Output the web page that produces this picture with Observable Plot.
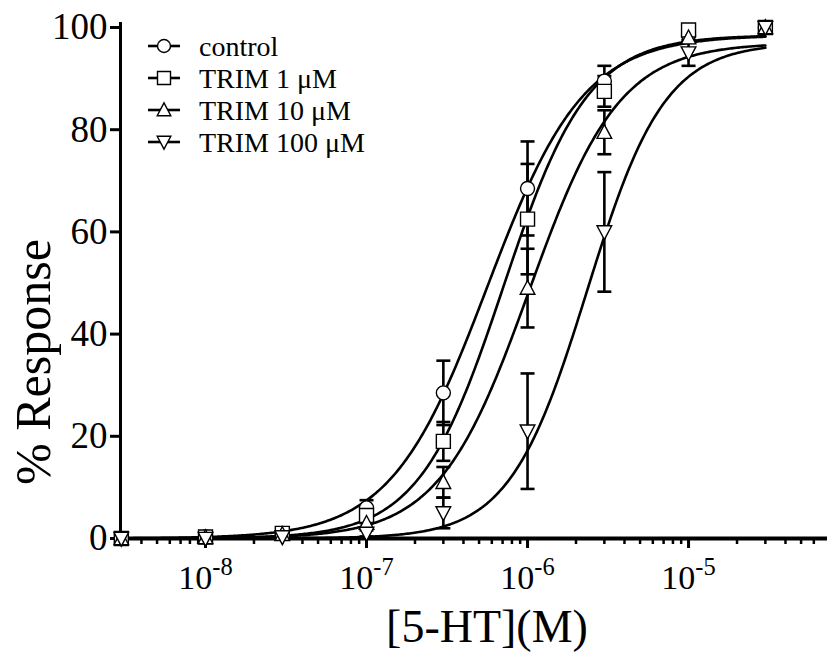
<!DOCTYPE html>
<html><head><meta charset="utf-8">
<script src="https://cdn.jsdelivr.net/npm/d3@7"></script>
<script src="https://cdn.jsdelivr.net/npm/@observablehq/plot@0.6"></script>
<style>
body{margin:0;background:#fff}
#wrap{position:relative;width:827px;height:654px;font-family:"Liberation Serif",serif}
#legend{position:absolute;left:0;top:0}
</style>
</head><body><div id="wrap"></div>
<script>
// ---- data ----
const conc = [3e-9, 1e-8, 3e-8, 1e-7, 3e-7, 1e-6, 3e-6, 1e-5, 3e-5];
const seriesNames = ["control", "TRIM 1 μM", "TRIM 10 μM", "TRIM 100 μM"];
const controlMean = [0, 0.3, 1, 6, 28.5, 68.5, 89.5, 98.5, 100];
const controlErr  = [0, 0, 0.5, 1.5, 6.3, 9.2, 3, 1, 0];
const trim1Mean   = [0, 0.3, 1, 4.5, 19, 62.5, 87.5, 99.5, 100];
const trim1Err    = [0, 0, 0.5, 1.5, 3.8, 10.8, 3, 0.5, 0];
const trim10Mean  = [0, 0.2, 0.8, 3, 11, 49, 79.5, 98, 100];
const trim10Err   = [0, 0, 0.4, 1, 3, 7.7, 4.3, 1, 0];
const trim100Mean = [0, 0, 0.3, 1, 5, 21, 60, 95, 100];
const trim100Err  = [0, 0, 0.3, 0.6, 3, 11.3, 11.7, 2.5, 0];
// fitted sigmoid (Hill) parameters per series
const fitTop     = [98.5, 98.5, 97, 97];
const fitLogEC50 = [-6.25, -6.15, -5.99, -5.63];
const fitHill    = [1.45, 1.65, 1.55, 1.8];
const xTickExp = [-8, -7, -6, -5];
const yTicks = [0, 20, 40, 60, 80, 100];

const means = [controlMean, trim1Mean, trim10Mean, trim100Mean];
const errs = [controlErr, trim1Err, trim10Err, trim100Err];

// ---- symbols ----
const rad = s => Math.sqrt(s / Math.PI);
const symCircle = {draw(c, s){const r = rad(s); c.moveTo(r,0); c.arc(0,0,r,0,2*Math.PI);}};
const symSquare = {draw(c, s){const r = rad(s); c.rect(-r,-r,2*r,2*r);}};
const symUp = {draw(c, s){const r = rad(s)*1.1; c.moveTo(0,-r); c.lineTo(r*0.95,r*0.8); c.lineTo(-r*0.95,r*0.8); c.closePath();}};
const symDown = {draw(c, s){const r = rad(s)*1.1; c.moveTo(0,r); c.lineTo(r*0.95,-r*0.8); c.lineTo(-r*0.95,-r*0.8); c.closePath();}};
const symCap = {draw(c, s){const r = rad(s); c.moveTo(-r,0); c.lineTo(r,0);}};
const symbols = [symCircle, symSquare, symUp, symDown];

const points = [];
seriesNames.forEach((name, i) => conc.forEach((x, j) => {
  points.push({series: i, x, y: means[i][j], lo: means[i][j] - errs[i][j], hi: means[i][j] + errs[i][j], e: errs[i][j]});
}));
const errPts = points.filter(d => d.e > 0);

const curves = [];
seriesNames.forEach((name, i) => {
  for (let lx = Math.log10(3e-9); lx <= Math.log10(3e-5) + 1e-9; lx += 0.01) {
    curves.push({series: i, x: Math.pow(10, lx),
      y: fitTop[i] / (1 + Math.pow(10, fitHill[i] * (fitLogEC50[i] - lx)))});
  }
});

const minorTicks = [];
for (let e = -9; e <= -5; e++) for (let m = 2; m <= 9; m++) {
  const v = m * Math.pow(10, e);
  if (v >= 3e-9 && v <= 7e-5) minorTicks.push(v);
}

const plot = Plot.plot({
  width: 827, height: 654,
  marginLeft: 120, marginRight: 0, marginTop: 27, marginBottom: 116,
  style: {fontFamily: "Liberation Serif, serif", background: "white", overflow: "visible"},
  x: {type: "log", domain: [Math.pow(10, -8.528), Math.pow(10, -4.137)]},
  y: {domain: [0, 100]},
  marks: [
    Plot.axisY({ticks: yTicks, tickSize: 10, tickPadding: 3, strokeWidth: 3, fontSize: 37, label: null, tickFormat: d => String(d), color: "#000"}),
    Plot.axisX({ticks: minorTicks, tickSize: 6, strokeWidth: 2.5, text: null, label: null}),
    Plot.axisX({ticks: xTickExp.map(e => Math.pow(10, e)), tickSize: 10, tickPadding: 16, strokeWidth: 3, fontSize: 34, label: null, tickFormat: d => "10|" + Math.round(Math.log10(d)), color: "#000"}),
    Plot.ruleY([0], {stroke: "#000", strokeWidth: 4}),
    Plot.ruleX([Math.pow(10, -8.528)], {y1: 0, y2: 101, stroke: "#000", strokeWidth: 3}),
    Plot.line(curves, {x: "x", y: "y", z: "series", stroke: "#000", strokeWidth: 2.6}),
    Plot.ruleX(errPts, {x: "x", y1: "lo", y2: "hi", stroke: "#000", strokeWidth: 2.6}),
    Plot.dot(errPts, {x: "x", y: "hi", symbol: () => symCap, r: 7, stroke: "#000", strokeWidth: 2.6, fill: "none"}),
    Plot.dot(errPts, {x: "x", y: "lo", symbol: () => symCap, r: 7, stroke: "#000", strokeWidth: 2.6, fill: "none"}),
    ...symbols.map((s, i) => Plot.dot(points.filter(d => d.series === i), {x: "x", y: "y", symbol: () => s, r: 7, stroke: "#000", strokeWidth: 1.4, fill: "white"}))
  ]
});

const svg = d3.select(plot);
svg.selectAll('g[aria-label="x-axis tick label"] text').each(function() {
  const t = d3.select(this);
  const parts = t.text().split("|");
  t.text("");
  t.append("tspan").text(parts[0]);
  t.append("tspan").attr("dy", "-0.55em").attr("font-size", "0.72em").text(parts[1]);
});
svg.append("text").attr("transform", "translate(50,362) rotate(-90)").attr("text-anchor", "middle")
  .attr("font-size", 50).attr("fill", "#000").text("% Response");
svg.append("text").attr("x", 487).attr("y", 642).attr("text-anchor", "middle")
  .attr("font-size", 46).attr("fill", "#000").text("[5-HT](M)");

const wrap = document.getElementById("wrap");
wrap.appendChild(plot);

// legend overlay
const lg = d3.select(wrap).append("svg").attr("id", "legend").attr("width", 400).attr("height", 170);
const rowY = [46, 78, 110, 142];
seriesNames.forEach((name, i) => {
  const g = lg.append("g").attr("transform", `translate(164,${rowY[i]})`);
  g.append("line").attr("x1", -16).attr("x2", 16).attr("stroke", "#000").attr("stroke-width", 2.6);
  g.append("path").attr("d", d3.symbol({draw: symbols[i].draw}, Math.PI * 6.5 * 6.5)()).attr("fill", "white").attr("stroke", "#000").attr("stroke-width", 1.4);
  g.append("text").attr("x", 35).attr("dy", "0.35em").attr("font-size", 28).attr("font-family", "Liberation Serif, serif").attr("fill", "#000").text(name);
});
</script></body></html>
